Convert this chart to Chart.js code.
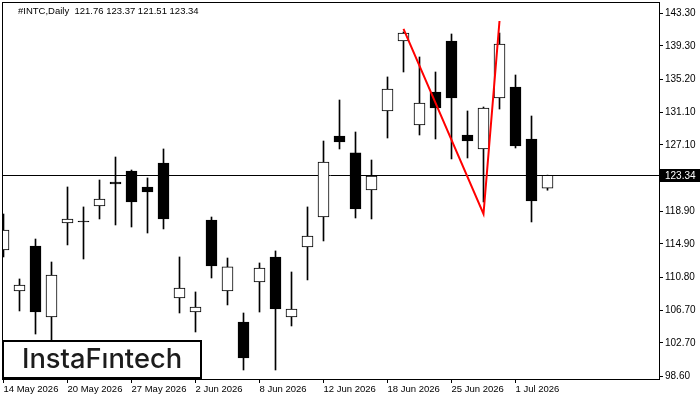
<!DOCTYPE html>
<html>
<head>
<meta charset="utf-8">
<script src="https://cdn.jsdelivr.net/npm/chart.js@4.4.1/dist/chart.umd.min.js"></script>
<style>
  html, body { margin: 0; padding: 0; background: #fff; }
  #wrap { width: 700px; height: 400px; }
</style>
</head>
<body>
<div id="wrap"><canvas id="chart" width="700" height="400"></canvas></div>
<script>
var title = "#INTC,Daily  121.76 123.37 121.51 123.34";
var logoText = "InstaF\u0131ntech";

// daily candles, 14 May 2026 .. early Jul 2026
var opens  = [114.15,109.10,114.64,105.90,117.47,117.62,119.57,122.52,123.88,121.91,124.86,108.24,106.51,117.84,109.10,105.28,110.21,113.29,105.90,114.52,118.21,128.19,126.10,121.54,131.27,139.89,129.54,133.61,139.89,128.31,126.59,132.87,134.22,127.82,121.76];
var highs  = [118.58,110.58,115.50,112.67,121.91,119.45,122.77,125.60,124.00,123.02,126.59,113.29,108.98,118.21,113.16,106.39,112.55,114.03,111.44,119.45,127.57,132.62,128.68,125.23,135.46,141.00,137.92,136.07,140.75,131.27,131.76,140.87,135.70,130.65,123.37];
var lows   = [113.29,106.64,103.80,102.60,114.77,113.04,117.97,117.23,116.98,116.24,116.74,106.39,104.05,110.70,107.38,99.37,106.51,99.37,104.79,110.46,115.26,126.59,118.09,117.97,127.94,136.07,128.31,127.82,125.36,125.48,120.06,131.51,126.71,117.60,121.51];
var closes = [116.61,109.84,106.51,111.07,117.97,117.60,120.43,122.28,120.06,121.29,117.97,109.47,107.13,112.18,112.06,100.85,111.93,106.88,106.88,115.87,124.99,127.45,119.20,123.26,133.98,140.87,132.25,131.64,132.87,127.57,131.64,139.52,126.96,120.18,123.34];

var xTickPos = [0, 4, 8, 12, 16, 20, 24, 28, 32];
var xTickLabels = ["14 May 2026", "20 May 2026", "27 May 2026", "2 Jun 2026", "8 Jun 2026", "12 Jun 2026", "18 Jun 2026", "25 Jun 2026", "1 Jul 2026"];
var yTicks = [143.30, 139.30, 135.20, 131.10, 127.10, 118.90, 114.90, 110.80, 106.70, 102.70, 98.60];

// red pattern line (candle index, price)
var patternX = [25, 30, 31];
var patternY = [141.37, 118.58, 142.35];

var font = "'Liberation Sans', Arial, sans-serif";
Chart.defaults.font.family = font;

var bodies = [], wicks = [], bodyColors = [];
for (var i = 0; i < opens.length; i++) {
  bodies.push({x: i, y: [opens[i], closes[i]]});
  wicks.push({x: i, y: [lows[i], highs[i]]});
  bodyColors.push(closes[i] >= opens[i] ? "#ffffff" : "#000000");
}
var pattern = patternX.map(function(x, k) { return {x: x, y: patternY[k]}; });
var lastClose = closes[closes.length - 1];

var extras = {
  id: "extras",
  beforeDatasetsDraw: function(chart) {
    var ctx = chart.ctx, a = chart.chartArea;
    var y = Math.round(chart.scales.y.getPixelForValue(lastClose)) + 0.5;
    ctx.save();
    ctx.strokeStyle = "#000";
    ctx.lineWidth = 1;
    ctx.beginPath();
    ctx.moveTo(a.left, y);
    ctx.lineTo(a.right, y);
    ctx.stroke();
    ctx.restore();
  },
  afterDraw: function(chart) {
    var ctx = chart.ctx, a = chart.chartArea;
    ctx.save();
    // frame
    ctx.strokeStyle = "#000";
    ctx.lineWidth = 1;
    ctx.strokeRect(a.left + 0.5, a.top + 0.5, a.right - a.left, a.bottom - a.top);

    // title
    ctx.fillStyle = "#000";
    ctx.font = "9.5px " + font;
    ctx.textBaseline = "alphabetic";
    ctx.textAlign = "left";
    ctx.fillText(title, 18, 14);

    // current price box
    var py = Math.round(chart.scales.y.getPixelForValue(lastClose));
    ctx.fillStyle = "#000";
    ctx.fillRect(a.right + 1, py - 6, 700 - a.right - 1, 13);
    ctx.fillStyle = "#fff";
    ctx.font = "10px " + font;
    ctx.textBaseline = "middle";
    ctx.fillText(lastClose.toFixed(2), a.right + 6, py + 1);

    // logo
    ctx.fillStyle = "#fff";
    ctx.fillRect(3, 341, 198, 37);
    ctx.lineWidth = 2;
    ctx.strokeStyle = "#000";
    ctx.strokeRect(3, 341, 198, 37);
    var logoFont = "Inter, Lato, 'Open Sans', sans-serif";
    ctx.font = "500 26px " + logoFont;
    var w = ctx.measureText(logoText).width;
    var size = 26 * 160 / w;
    ctx.font = "500 " + size.toFixed(1) + "px " + logoFont;
    ctx.fillStyle = "#1c1c1c";
    ctx.textBaseline = "alphabetic";
    ctx.fillText(logoText, 22, 368);
    ctx.restore();
  }
};

new Chart(document.getElementById("chart"), {
  type: "bar",
  data: {
    datasets: [
      {
        type: "line", data: pattern, order: 0,
        borderColor: "#ff0000", borderWidth: 2, pointRadius: 0, tension: 0, fill: false
      },
      {
        data: bodies, order: 1, grouped: false, barThickness: 11, minBarLength: 1,
        backgroundColor: bodyColors, borderColor: "#000", borderWidth: 1, borderSkipped: false, clip: 0
      },
      {
        data: wicks, order: 2, grouped: false, barThickness: 1,
        backgroundColor: "#000", borderWidth: 0, clip: 0
      }
    ]
  },
  options: {
    responsive: false,
    animation: false,
    devicePixelRatio: 1,
    layout: { padding: { left: 2, top: 2, right: 0, bottom: 0 } },
    plugins: { legend: { display: false }, tooltip: { enabled: false } },
    scales: {
      x: {
        type: "linear", min: -0.09375, max: 40.96875, offset: false,
        afterBuildTicks: function(s) { s.ticks = xTickPos.map(function(v) { return {value: v}; }); },
        afterFit: function(s) { s.height = 21; s.paddingLeft = 0; s.paddingRight = 0; },
        grid: { offset: false, drawOnChartArea: false, drawTicks: true, tickLength: 4, color: "#000" },
        border: { display: false },
        ticks: {
          autoSkip: false, maxRotation: 0, align: "start", padding: 1, color: "#000",
          font: { size: 9.5 },
          callback: function(v) { var k = xTickPos.indexOf(v); return k < 0 ? "" : xTickLabels[k]; }
        }
      },
      y: {
        position: "right", min: 98.26, max: 144.69,
        afterBuildTicks: function(s) { s.ticks = yTicks.map(function(v) { return {value: v}; }); },
        afterFit: function(s) { s.width = 41; s.paddingTop = 0; s.paddingBottom = 0; },
        grid: { drawOnChartArea: false, drawTicks: true, tickLength: 4, color: "#000" },
        border: { display: false },
        ticks: {
          padding: 2, color: "#000", font: { size: 10 },
          callback: function(v) { return v.toFixed(2); }
        }
      }
    }
  },
  plugins: [extras]
});
</script>
</body>
</html>
